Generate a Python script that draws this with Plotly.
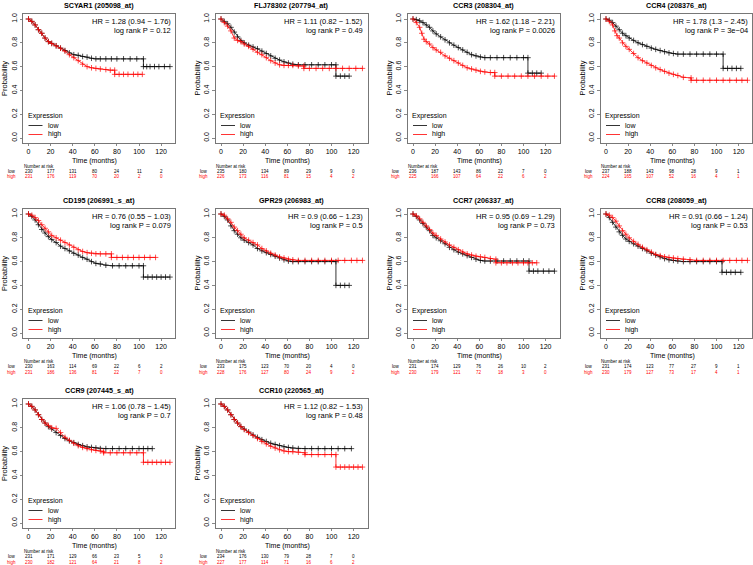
import plotly.graph_objects as go

W, H = 753, 565
FONT = "Liberation Sans, Arial, sans-serif"

titles = ["SCYAR1 (205098_at)", "FLJ78302 (207794_at)", "CCR3 (208304_at)", "CCR4 (208376_at)",
          "CD195 (206991_s_at)", "GPR29 (206983_at)", "CCR7 (206337_at)", "CCR8 (208059_at)",
          "CCR9 (207445_s_at)", "CCR10 (220565_at)"]
hr_lines = ["HR = 1.28 (0.94 − 1.76)", "HR = 1.11 (0.82 − 1.52)", "HR = 1.62 (1.18 − 2.21)",
            "HR = 1.78 (1.3 − 2.45)", "HR = 0.76 (0.55 − 1.03)", "HR = 0.9 (0.66 − 1.23)",
            "HR = 0.95 (0.69 − 1.29)", "HR = 0.91 (0.66 − 1.24)", "HR = 1.06 (0.78 − 1.45)",
            "HR = 1.12 (0.82 − 1.53)"]
p_lines = ["log rank P = 0.12", "log rank P = 0.49", "log rank P = 0.0026", "log rank P = 3e−04",
           "log rank P = 0.079", "log rank P = 0.5", "log rank P = 0.73", "log rank P = 0.53",
           "log rank P = 0.7", "log rank P = 0.48"]
risk_times = [0, 20, 40, 60, 80, 100, 120]
y_ticks = [0.0, 0.2, 0.4, 0.6, 0.8, 1.0]
y_tick_text = ["0.0", "0.2", "0.4", "0.6", "0.8", "1.0"]
risk_low = [[230, 177, 131, 80, 24, 11, 2], [235, 180, 134, 89, 29, 9, 0], [236, 187, 143, 86, 22, 7, 0],
            [237, 188, 143, 98, 28, 9, 1], [230, 163, 114, 69, 22, 6, 2], [233, 175, 123, 70, 20, 4, 0],
            [231, 174, 129, 76, 26, 10, 2], [231, 174, 123, 77, 27, 9, 1], [231, 171, 129, 66, 23, 5, 0],
            [234, 176, 130, 79, 28, 7, 0]]
risk_high = [[231, 176, 119, 70, 20, 2, 0], [226, 173, 116, 81, 15, 4, 2], [225, 166, 107, 64, 22, 6, 2],
             [224, 165, 107, 52, 16, 4, 1], [231, 186, 136, 81, 22, 7, 0], [228, 176, 127, 80, 24, 9, 2],
             [230, 179, 121, 72, 18, 3, 0], [230, 179, 127, 73, 17, 4, 1], [230, 182, 121, 64, 21, 8, 2],
             [227, 177, 114, 71, 16, 6, 2]]

# ---- survival curves (time in months, survival probability), censor marks at knots ----
scyar1_low_t = [0,3,6,9,12,15,18,21,25,29,33,37,41,45,49,53,57,61,65,70,75,80,86,92,98,104,104,107,110,114,118,123,128]
scyar1_low_s = [1.0,.98,.95,.91,.88,.84,.81,.795,.775,.755,.735,.715,.70,.695,.685,.68,.67,.665,.665,.665,.665,.665,.665,.665,.665,.665,.60,.60,.60,.60,.60,.60,.60]
scyar1_high_t = [0,3,6,9,12,15,18,21,25,29,33,37,41,45,49,53,57,61,65,70,74,78,78,82,86,90,95,99,103]
scyar1_high_s = [1.0,.98,.95,.91,.88,.84,.81,.795,.775,.755,.73,.70,.675,.65,.62,.60,.59,.585,.58,.575,.57,.57,.535,.535,.535,.535,.535,.535,.535]

flj_low_t = [0,3,6,9,12,15,18,21,25,29,33,37,41,45,49,53,57,61,65,70,76,82,88,94,100,104,104,108,112,116]
flj_low_s = [1.0,.98,.96,.93,.89,.85,.82,.80,.78,.765,.75,.73,.71,.69,.67,.655,.64,.63,.62,.615,.615,.615,.615,.615,.615,.615,.52,.52,.52,.52]
flj_high_t = [0,3,6,9,12,15,18,21,25,29,33,37,41,45,49,53,57,61,65,70,75,75,80,86,92,98,104,110,116,122,128]
flj_high_s = [1.0,.97,.94,.90,.84,.82,.81,.79,.77,.745,.72,.70,.675,.65,.63,.615,.61,.61,.61,.605,.605,.585,.585,.585,.585,.585,.585,.585,.585,.585,.585]

ccr3_low_t = [0,3,6,9,12,15,18,21,25,29,33,37,41,45,49,53,57,61,65,70,76,82,88,94,100,104,104,108,112,116]
ccr3_low_s = [1.0,.995,.985,.97,.95,.93,.90,.875,.85,.825,.80,.78,.76,.74,.72,.70,.69,.68,.675,.675,.675,.675,.675,.675,.675,.675,.545,.545,.545,.545]
ccr3_high_t = [0,3,6,8,10,12,15,18,21,25,29,33,37,41,45,49,53,57,61,65,70,74,74,80,86,92,98,104,110,116,122,128]
ccr3_high_s = [1.0,.97,.93,.88,.83,.81,.79,.76,.74,.72,.69,.67,.65,.63,.61,.59,.58,.57,.56,.555,.55,.55,.52,.52,.52,.52,.52,.52,.52,.52,.52,.52]

ccr4_low_t = [0,3,6,9,12,15,18,21,25,29,33,37,41,45,49,53,57,61,65,70,76,82,88,94,100,106,106,110,114,118,122]
ccr4_low_s = [1.0,.99,.97,.94,.91,.88,.86,.84,.82,.80,.785,.77,.755,.745,.735,.725,.715,.71,.705,.705,.705,.705,.705,.705,.705,.705,.585,.585,.585,.585,.585]
ccr4_high_t = [0,3,6,8,10,12,15,18,21,25,29,33,37,41,45,49,53,57,61,65,70,77,77,82,88,94,100,106,112,118,123,128]
ccr4_high_s = [1.0,.98,.95,.90,.86,.84,.80,.77,.745,.71,.675,.65,.63,.61,.59,.575,.56,.545,.535,.525,.51,.505,.485,.485,.485,.485,.485,.485,.485,.485,.485,.485]

cd195_low_t = [0,3,6,9,12,15,18,21,25,29,33,37,41,45,49,53,57,61,65,70,76,82,88,94,100,104,104,108,112,116,120,124,128]
cd195_low_s = [1.0,.98,.95,.91,.87,.84,.81,.785,.76,.73,.71,.69,.67,.655,.635,.62,.60,.585,.58,.57,.565,.565,.565,.565,.565,.565,.47,.47,.47,.47,.47,.47,.47]
cd195_high_t = [0,3,6,9,12,15,18,21,25,29,33,37,41,45,49,53,57,61,65,70,75,75,80,85,90,95,100,105,110,115]
cd195_high_s = [1.0,.99,.97,.945,.91,.88,.85,.82,.80,.78,.76,.74,.72,.70,.685,.675,.67,.665,.665,.665,.665,.635,.635,.635,.635,.635,.635,.635,.635,.635]

gpr29_low_t = [0,3,6,9,12,15,18,21,25,29,33,37,41,45,49,53,57,61,65,70,76,82,88,94,100,104,104,108,112,116]
gpr29_low_s = [1.0,.98,.95,.90,.86,.83,.80,.78,.76,.74,.71,.69,.675,.66,.645,.63,.615,.605,.60,.60,.60,.60,.60,.60,.60,.60,.40,.40,.40,.40]
gpr29_high_t = [0,3,6,9,12,15,18,21,25,29,33,37,41,45,49,53,57,61,65,70,76,82,88,94,100,106,112,118,123,128]
gpr29_high_s = [1.0,.99,.96,.93,.89,.86,.83,.80,.78,.76,.74,.71,.69,.67,.655,.64,.63,.62,.615,.61,.61,.61,.61,.61,.61,.61,.61,.61,.61,.61]

ccr7_low_t = [0,3,6,9,12,15,18,21,25,29,33,37,41,45,49,53,57,61,65,70,76,82,88,94,100,105,105,109,113,118,123,128]
ccr7_low_s = [1.0,.98,.95,.92,.89,.86,.82,.80,.775,.75,.72,.70,.68,.665,.65,.635,.62,.61,.605,.605,.605,.605,.605,.605,.605,.605,.52,.52,.52,.52,.52,.52]
ccr7_high_t = [0,3,6,9,12,15,18,21,25,29,33,37,41,45,49,53,57,61,65,70,75,75,80,85,90,95,100,104,108,112]
ccr7_high_s = [1.0,.985,.96,.93,.90,.87,.84,.82,.79,.765,.74,.72,.70,.68,.665,.655,.645,.64,.635,.625,.62,.59,.59,.59,.59,.59,.59,.59,.59,.59]

ccr8_low_t = [0,3,6,9,12,15,18,21,25,29,33,37,41,45,49,53,57,61,65,70,76,82,88,94,100,105,105,109,113,117,122]
ccr8_low_s = [1.0,.97,.93,.89,.85,.82,.79,.77,.75,.73,.71,.69,.67,.655,.64,.625,.615,.61,.605,.60,.60,.60,.60,.60,.60,.60,.51,.51,.51,.51,.51]
ccr8_high_t = [0,3,6,9,12,15,18,21,25,29,33,37,41,45,49,53,57,61,65,70,76,82,88,94,100,106,112,118,123,128]
ccr8_high_s = [1.0,.99,.97,.94,.90,.86,.83,.80,.77,.745,.72,.70,.68,.66,.65,.64,.635,.63,.625,.62,.615,.61,.61,.61,.61,.61,.61,.61,.61,.61]

ccr9_low_t = [0,3,6,9,12,15,18,21,25,29,33,37,41,45,49,53,57,61,65,70,76,82,88,94,100,104,108,112]
ccr9_low_s = [1.0,.98,.95,.91,.87,.84,.81,.79,.76,.735,.71,.69,.675,.66,.65,.64,.635,.63,.625,.625,.625,.625,.625,.625,.625,.625,.625,.625]
ccr9_high_t = [0,3,6,9,12,15,18,21,25,29,33,37,41,45,49,53,57,61,65,68,68,74,80,86,92,98,104,104,108,112,116,120,124,128]
ccr9_high_s = [1.0,.98,.95,.91,.87,.84,.82,.80,.795,.76,.72,.695,.67,.65,.635,.625,.615,.61,.605,.60,.59,.59,.59,.59,.59,.59,.59,.51,.51,.51,.51,.51,.51,.51]

ccr10_low_t = [0,3,6,9,12,15,18,21,25,29,33,37,41,45,49,53,57,61,65,70,76,82,88,94,100,106,112,118]
ccr10_low_s = [1.0,.98,.95,.91,.87,.84,.81,.79,.765,.74,.72,.70,.685,.67,.66,.65,.64,.635,.63,.625,.625,.625,.625,.625,.625,.625,.625,.625]
ccr10_high_t = [0,3,6,9,12,15,18,21,25,29,33,37,41,45,49,53,57,61,65,70,76,76,82,88,94,100,104,104,108,112,116,120,124,128]
ccr10_high_s = [1.0,.98,.95,.91,.87,.84,.81,.785,.76,.735,.71,.685,.665,.645,.63,.615,.605,.60,.60,.595,.59,.575,.575,.575,.575,.575,.575,.47,.47,.47,.47,.47,.47,.47]

curves_low = [(scyar1_low_t, scyar1_low_s), (flj_low_t, flj_low_s), (ccr3_low_t, ccr3_low_s),
              (ccr4_low_t, ccr4_low_s), (cd195_low_t, cd195_low_s), (gpr29_low_t, gpr29_low_s),
              (ccr7_low_t, ccr7_low_s), (ccr8_low_t, ccr8_low_s), (ccr9_low_t, ccr9_low_s),
              (ccr10_low_t, ccr10_low_s)]
curves_high = [(scyar1_high_t, scyar1_high_s), (flj_high_t, flj_high_s), (ccr3_high_t, ccr3_high_s),
               (ccr4_high_t, ccr4_high_s), (cd195_high_t, cd195_high_s), (gpr29_high_t, gpr29_high_s),
               (ccr7_high_t, ccr7_high_s), (ccr8_high_t, ccr8_high_s), (ccr9_high_t, ccr9_high_s),
               (ccr10_high_t, ccr10_high_s)]

# ---- layout geometry (pixels) ----
col_x0 = [28.5, 221, 413, 606]   # pixel x of month 0 in each column
row_y1 = [19, 214, 404]          # pixel y of probability 1.0 in each row
KX, KY = 1.105, 119.0
XR = [-5.0, 133.0]
YR = [-0.04, 1.04]
LOW_C, HIGH_C = "#000000", "#FF0000"
BOX_C = "#555555"
FS = 7.5
TFS = 7


def px(x):
    return min(max(x / W, 0.0), 1.0)


def py(y):
    return min(max(1 - y / H, 0.0), 1.0)


def note(text, x, y, font, xanchor="center", **kw):
    return dict(text=text, x=px(x), y=py(y), xref="paper", yref="paper", showarrow=False,
                xanchor=xanchor, yanchor="middle", font=font, borderpad=0, **kw)


fig = go.Figure()
ann = []
shp = []
lay = {}

for i in range(10):
    r, c = divmod(i, 4)
    sfx = "" if i == 0 else str(i + 1)
    X0, Y1 = col_x0[c], row_y1[r]
    left = X0 + XR[0] * KX
    right = min(X0 + XR[1] * KX, W - 0.5)
    xr = [XR[0], (right - X0) / KX]
    top, bottom = Y1 - (YR[1] - 1) * KY, Y1 + (1 - YR[0]) * KY
    lay["xaxis" + sfx] = dict(domain=[px(left), px(right)], range=xr, anchor="y" + sfx,
                              tickvals=risk_times, ticks="outside", ticklen=2, tickwidth=0.7,
                              tickcolor=BOX_C, showline=True, mirror=True, linecolor=BOX_C,
                              linewidth=0.8, showgrid=False, zeroline=False,
                              tickfont=dict(size=TFS, family=FONT, color="#000"))
    lay["yaxis" + sfx] = dict(domain=[py(bottom), py(top)], range=YR, anchor="x" + sfx,
                              tickvals=y_ticks, ticktext=y_tick_text, ticks="outside", ticklen=2.5,
                              tickwidth=0.7, tickcolor=BOX_C, showline=True, mirror=True,
                              linecolor=BOX_C, linewidth=0.8, showgrid=False, zeroline=False,
                              tickangle=-90, tickfont=dict(size=TFS, family=FONT, color="#000"))
    for (t, s), col, nm in ((curves_low[i], LOW_C, "low"), (curves_high[i], HIGH_C, "high")):
        fig.add_trace(go.Scatter(x=t, y=s, mode="lines+markers", name=nm, showlegend=False,
                                 xaxis="x" + sfx, yaxis="y" + sfx,
                                 line=dict(color=col, width=0.8),
                                 marker=dict(symbol="cross-thin", size=4,
                                             line=dict(color=col, width=0.7)),
                                 hoverinfo="skip"))
    f7 = dict(size=FS, family=FONT, color="#000")
    fl = dict(size=7, family=FONT, color="#000")
    ann.append(note("<b>%s</b>" % titles[i], (left + right) / 2, Y1 - 14, dict(size=7.2, family=FONT, color="#000")))
    ann.append(note(hr_lines[i], X0 + 143, Y1 + 2.5, f7, xanchor="right"))
    ann.append(note(p_lines[i], X0 + 143, Y1 + 11.5, f7, xanchor="right"))
    ann.append(note("Expression", X0 - 2, Y1 + 97, fl, xanchor="left"))
    ann.append(note("low", X0 + 18, Y1 + 106.5, fl, xanchor="left"))
    ann.append(note("high", X0 + 18, Y1 + 115.5, fl, xanchor="left"))
    shp.append(dict(type="line", xref="paper", yref="paper", x0=px(X0), x1=px(X0 + 14),
                    y0=py(Y1 + 106.5), y1=py(Y1 + 106.5), line=dict(color=LOW_C, width=0.8)))
    shp.append(dict(type="line", xref="paper", yref="paper", x0=px(X0), x1=px(X0 + 14),
                    y0=py(Y1 + 115.5), y1=py(Y1 + 115.5), line=dict(color=HIGH_C, width=0.8)))
    ann.append(note("Probability", X0 - 24, Y1 + 59.5, f7, textangle=-90))
    ann.append(note("Time (months)", X0 + 60 * KX, Y1 + 141.5, fl))
    f4 = dict(size=4.5, family=FONT, color="#000")
    f4r = dict(size=4.5, family=FONT, color=HIGH_C)
    ann.append(note("Number at risk", X0 - 6, Y1 + 147.5, f4, xanchor="left"))
    ann.append(note("low", X0 - 12, Y1 + 152.5, f4, xanchor="right"))
    ann.append(note("high", X0 - 12, Y1 + 158, f4r, xanchor="right"))
    for t, nl, nh in zip(risk_times, risk_low[i], risk_high[i]):
        ann.append(note(str(nl), X0 + t * KX, Y1 + 152.5, f4))
        ann.append(note(str(nh), X0 + t * KX, Y1 + 158, f4r))

fig.update_layout(width=W, height=H, margin=dict(l=0, r=0, t=0, b=0),
                  paper_bgcolor="white", plot_bgcolor="white", showlegend=False,
                  annotations=ann, shapes=shp, font=dict(family=FONT, size=FS), **lay)
fig.write_html("out.html", config={"displayModeBar": False, "staticPlot": True},
               post_script="document.body.style.margin='0';document.body.style.overflow='hidden';")
